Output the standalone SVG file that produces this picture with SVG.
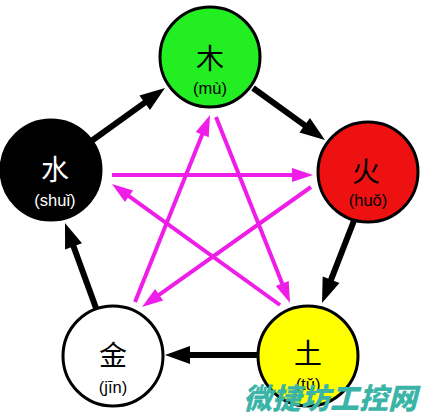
<svg xmlns="http://www.w3.org/2000/svg" width="421" height="420" viewBox="0 0 421 420">
<defs>
<style>
.node{stroke:#000;stroke-width:3}
.cjk{font-family:"Noto Sans CJK SC","Noto Sans CJK JP",sans-serif;font-size:28px;text-anchor:middle}
.py{font-family:"Liberation Sans",Arial,sans-serif;font-size:16.5px;text-anchor:middle}
.blk{stroke:#000;stroke-width:6;fill:none}
.mag{stroke:#ee1ee8;stroke-width:4;fill:none}
.wm{font-family:"Noto Sans CJK SC",sans-serif;font-weight:900;font-size:29px;fill:#3bb4a8;font-style:italic}
</style>
<marker id="ab" markerUnits="userSpaceOnUse" markerWidth="24" markerHeight="18" refX="0" refY="9" orient="auto" overflow="visible">
<path d="M-1,0 L24,9 L-1,18 z" fill="#000"/>
</marker>
<marker id="am" markerUnits="userSpaceOnUse" markerWidth="20" markerHeight="14" refX="0" refY="7" orient="auto" overflow="visible">
<path d="M-1,0 L20,7 L-1,14 z" fill="#ee1ee8"/>
</marker>
</defs>
<rect width="421" height="420" fill="#fff"/>
<g id="connectors">
<line class="blk" x1="90" y1="142" x2="145.5" y2="102.1" marker-end="url(#ab)"/>
<line class="blk" x1="253" y1="88" x2="305.5" y2="125.9" marker-end="url(#ab)"/>
<line class="blk" x1="355" y1="218" x2="330.7" y2="280.6" marker-end="url(#ab)"/>
<line class="blk" x1="258" y1="355" x2="189" y2="355" marker-end="url(#ab)"/>
<line class="blk" x1="96" y1="308" x2="73.2" y2="245.5" marker-end="url(#ab)"/>
<line class="mag" x1="112" y1="175" x2="293" y2="175" marker-end="url(#am)"/>
<line class="mag" x1="311" y1="187" x2="158.3" y2="295.4" marker-end="url(#am)"/>
<line class="mag" x1="135" y1="302" x2="202.6" y2="133.6" marker-end="url(#am)"/>
<line class="mag" x1="216" y1="117" x2="282.6" y2="284.4" marker-end="url(#am)"/>
<line class="mag" x1="280" y1="305" x2="128.2" y2="195.7" marker-end="url(#am)"/>
</g>
<g id="wood">
<circle class="node" cx="210" cy="57" r="50" fill="#22ee22"/>
<text class="cjk" x="210" y="69">木</text>
<text class="py" x="210" y="94">(mù)</text>
</g>
<g id="fire">
<circle class="node" cx="368" cy="172" r="50" fill="#ee1111"/>
<text class="cjk" x="366" y="182">火</text>
<text class="py" x="368" y="206">(huǒ)</text>
</g>
<g id="water">
<circle class="node" cx="51" cy="170" r="50" fill="#000"/>
<text class="cjk" x="55" y="180" fill="#fff">水</text>
<text class="py" x="55" y="206" fill="#fff">(shuǐ)</text>
</g>
<g id="metal">
<circle class="node" cx="113" cy="356" r="50" fill="#fff"/>
<text class="cjk" x="113" y="366">金</text>
<text class="py" x="113" y="393">(jīn)</text>
</g>
<g id="earth">
<circle class="node" cx="308" cy="356" r="50" fill="#ffff00"/>
<text class="cjk" x="308" y="364">土</text>
<text class="py" x="308" y="390">(tǔ)</text>
</g>
<text class="wm" x="243" y="409">微捷坊工控网</text>
</svg>
